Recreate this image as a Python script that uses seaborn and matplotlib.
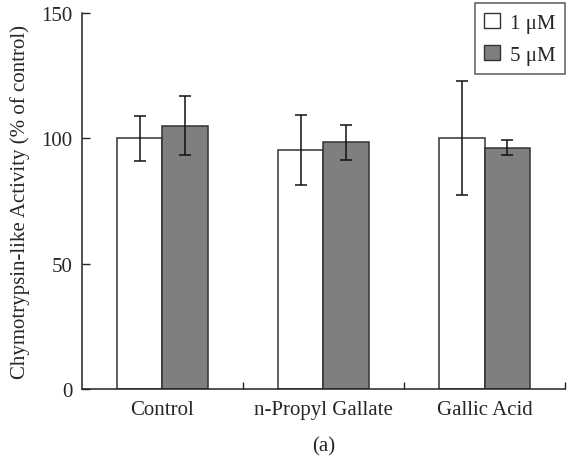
import pandas as pd
import seaborn as sns
import matplotlib.pyplot as plt
from matplotlib.ticker import FixedLocator
from matplotlib.patches import Patch

# значения
treatments = ['Control', 'n-Propyl Gallate', 'Gallic Acid']
doses = ['1 μM', '5 μM']
mean_1um = [100.0, 95.3, 100.0]
mean_5um = [105.0, 98.4, 96.3]
err_1um = [9.0, 14.0, 22.8]
err_5um = [11.7, 7.0, 2.9]

df = pd.DataFrame({
    'treatment': treatments * 2,
    'dose': [doses[0]] * 3 + [doses[1]] * 3,
    'activity': mean_1um + mean_5um,
})
errs = {doses[0]: err_1um, doses[1]: err_5um}

sns.set_style('ticks')
plt.rcParams['font.family'] = ['Liberation Serif', 'DejaVu Serif']
fs = 15
plt.rcParams['font.size'] = fs

fig = plt.figure(figsize=(5.69, 4.60), dpi=100)
ax = fig.add_axes([0.144, 0.152, 0.849, 0.818])

colors = {doses[0]: 'white', doses[1]: '#7f7f7f'}
sns.barplot(data=df, x='treatment', y='activity', hue='dose', hue_order=doses,
            order=treatments, palette=colors, errorbar=None, width=0.57,
            edgecolor='#333333', linewidth=1.1, legend=False, ax=ax)

# усы ошибок по центрам столбиков
for cont, d in zip(ax.containers, doses):
    xs = [b.get_x() + b.get_width() / 2 for b in cont]
    ys = [b.get_height() for b in cont]
    ax.errorbar(xs, ys, yerr=errs[d], fmt='none', ecolor='#111111',
                elinewidth=1.1, capsize=4, capthick=1.1, zorder=5)

ax.set_xlim(-0.5, 2.5)
ax.set_ylim(0, 150)
ax.set_yticks([0, 50, 100, 150])
ax.tick_params(axis='y', direction='in', length=6, width=1, labelsize=fs, pad=7)
ax.tick_params(axis='x', which='major', length=0, labelsize=fs, pad=8)
ax.xaxis.set_minor_locator(FixedLocator([0.5, 1.5, 2.5]))
ax.tick_params(axis='x', which='minor', direction='in', length=5, width=1)
sns.despine(ax=ax)
for s in ['left', 'bottom']:
    ax.spines[s].set_linewidth(1.1)
    ax.spines[s].set_color('#222222')

ax.set_xlabel('(a)', fontsize=fs, labelpad=12)
ax.set_ylabel('Chymotrypsin-like Activity (% of control)', fontsize=fs, labelpad=8)

handles = [Patch(facecolor=colors[d], edgecolor='#333333', linewidth=1, label=d) for d in doses]
leg = ax.legend(handles=handles, loc='upper right', bbox_to_anchor=(1.0, 1.025),
                borderaxespad=0, frameon=True, fancybox=False, fontsize=fs,
                handlelength=0.75, handleheight=0.75, handletextpad=0.5,
                borderpad=0.45, labelspacing=0.6)
leg.get_frame().set_edgecolor('#333333')
leg.get_frame().set_linewidth(1.1)

fig.savefig('out.png', dpi=100)
